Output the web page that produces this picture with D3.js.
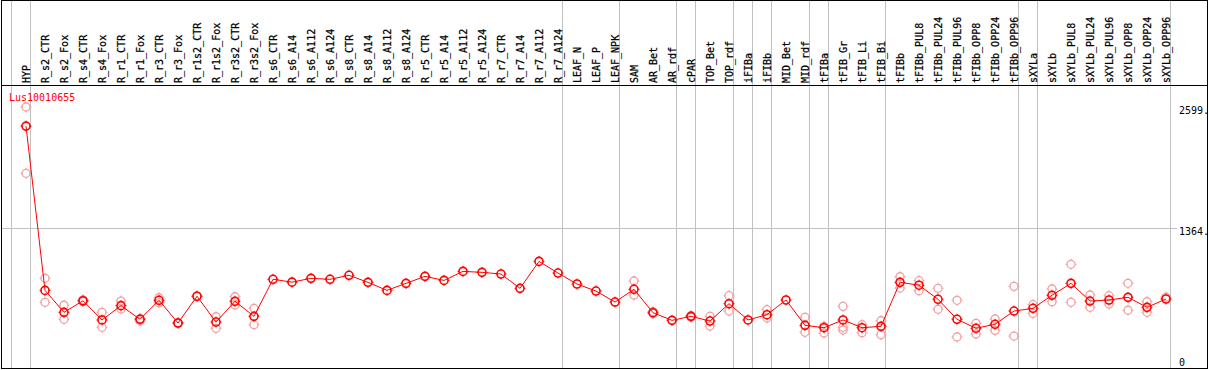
<!DOCTYPE html>
<html>
<head>
<meta charset="utf-8">
<script src="https://cdn.jsdelivr.net/npm/d3@7"></script>
<style>
  html, body { margin: 0; padding: 0; background: #fff; }
  text { font-family: "DejaVu Sans Mono", monospace; font-size: 10px; }
</style>
</head>
<body>
<div id="chart"></div>
<script>
// expression profile, one gene
var geneName = "Lus10010655";

var categories = ["HYP", "R_s2_CTR", "R_s2_Fox", "R_s4_CTR", "R_s4_Fox", "R_r1_CTR", "R_r1_Fox",
    "R_r3_CTR", "R_r3_Fox", "R_r1s2_CTR", "R_r1s2_Fox", "R_r3s2_CTR", "R_r3s2_Fox", "R_s6_CTR",
    "R_s6_A14", "R_s6_A112", "R_s6_A124", "R_s8_CTR", "R_s8_A14", "R_s8_A112", "R_s8_A124",
    "R_r5_CTR", "R_r5_A14", "R_r5_A112", "R_r5_A124", "R_r7_CTR", "R_r7_A14", "R_r7_A112",
    "R_r7_A124", "LEAF_N", "LEAF_P", "LEAF_NPK", "SAM", "AR_Bet", "AR_rdf", "cPAR", "TOP_Bet",
    "TOP_rdf", "iFIBa", "iFIBb", "MID_Bet", "MID_rdf", "tFIBa", "tFIB_Gr", "tFIB_Li", "tFIB_Bi",
    "tFIBb", "tFIBb_PUL8", "tFIBb_PUL24", "tFIBb_PUL96", "tFIBb_OPP8", "tFIBb_OPP24", "tFIBb_OPP96",
    "sXYLa", "sXYLb", "sXYLb_PUL8", "sXYLb_PUL24", "sXYLb_PUL96", "sXYLb_OPP8", "sXYLb_OPP24",
    "sXYLb_OPP96"];

// mean values
var means = [2404, 727, 503, 621, 425, 571, 432, 626, 394, 667, 404, 615, 462, 840,
    811, 850, 840, 881, 809, 727, 799, 870, 829, 921, 911, 894, 748, 1023,
    904, 792, 720, 608, 738, 499, 421, 462, 414, 591, 425, 479, 629, 370, 346, 425,
    346, 360, 809, 780, 636, 432, 340, 381, 516, 544, 677, 799, 618, 629, 656, 554, 639];

// single replicates (faint circles)
var replicates = [[2599, 1922], [850, 605], [575, 432], [630, 612], [503, 350], [618, 537],
    [414, 440], [652, 600], [390, 398], [667], [458, 340], [662, 578], [544, 377],
    [], [], [], [], [], [], [], [], [], [], [], [], [], [], [], [], [], [], [],
    [823, 680], [510, 490], [], [470, 452], [462, 363], [673, 516], [], [530, 445], [],
    [452, 299], [360, 292], [564, 350, 322], [377, 295], [417, 275], [866, 751], [826, 724],
    [748, 534], [626, 251], [391, 282], [435, 319], [768, 261], [581, 493], [741, 611],
    [993, 605], [680, 554], [673, 588], [799, 524], [611, 503], [659]];

// vertical separators drawn after these columns
var groupEnds = ["HYP", "R_r7_A124", "LEAF_NPK", "AR_rdf", "cPAR", "TOP_rdf", "iFIBa", "iFIBb",
    "MID_rdf", "tFIBa", "tFIB_Bi", "tFIBb_OPP96", "sXYLa", "sXYLb_OPP96"];

var yTicks = [0, 1364, 2599];
var yGrid = [1364];

(function () {
    "use strict";
    var w = 1209, h = 370, headerH = 85, right = 1207.5, bottom = 368.5;
    var red = "#ff0000", pink = "#f0a0a0", grey = "#c0c0c0";

    var svg = d3.select("#chart").append("svg").attr("width", w).attr("height", h);

    var x = d3.scaleBand().domain(categories).range([16.5, 16.5 + 19 * categories.length]);
    var cx = function (c) { return x(c) + x.bandwidth() / 2; };
    var y = d3.scaleLinear().domain([0, d3.max(yTicks)]).range([361.6, 107]);

    // grey separators, full height
    var sepX = [cx(categories[0]) - x.step() + 4.5].concat(groupEnds.map(function (c) {
        return cx(c) + 4.5;
    }));
    svg.selectAll("line.sep").data(sepX).enter().append("line")
        .attr("class", "sep")
        .attr("x1", function (d) { return d; }).attr("x2", function (d) { return d; })
        .attr("y1", 0).attr("y2", bottom)
        .attr("stroke", grey).attr("shape-rendering", "crispEdges");

    svg.selectAll("line.grid").data(yGrid).enter().append("line")
        .attr("class", "grid")
        .attr("x1", 1.5).attr("x2", 1177)
        .attr("y1", function (d) { return Math.round(y(d)) + 0.5; })
        .attr("y2", function (d) { return Math.round(y(d)) + 0.5; })
        .attr("stroke", grey).attr("shape-rendering", "crispEdges");

    // frame
    svg.append("rect").attr("x", 1.5).attr("y", 0.5)
        .attr("width", right - 1.5).attr("height", bottom - 0.5)
        .attr("fill", "none").attr("stroke", "#000").attr("shape-rendering", "crispEdges");
    svg.append("line").attr("x1", 1.5).attr("x2", right)
        .attr("y1", headerH + 0.5).attr("y2", headerH + 0.5)
        .attr("stroke", "#000").attr("shape-rendering", "crispEdges");

    // column labels, rotated
    svg.selectAll("text.cat").data(categories).enter().append("text")
        .attr("class", "cat")
        .attr("transform", function (d) { return "translate(" + (cx(d) + 4) + ",83) rotate(-90)"; })
        .attr("fill", "#000").attr("stroke", "#000").attr("stroke-width", 0.25)
        .text(function (d) { return d; });

    // y labels
    svg.selectAll("text.ytick").data(yTicks).enter().append("text")
        .attr("class", "ytick")
        .attr("x", 1179)
        .attr("y", function (d) { return Math.min(y(d) + 7, 366); })
        .attr("fill", "#000")
        .text(function (d) { return d === 0 ? "0" : d + "."; });

    svg.append("text").attr("x", 9).attr("y", 101).attr("fill", red).text(geneName);

    function marker(g, color, sw) {
        g.append("circle").attr("r", 4).attr("fill", "none")
            .attr("stroke", color).attr("stroke-width", sw);
        [[0, -4, 0, -5.5], [0, 4, 0, 5.5], [-4, 0, -5.5, 0], [4, 0, 5.5, 0]].forEach(function (t) {
            g.append("line").attr("x1", t[0]).attr("y1", t[1]).attr("x2", t[2]).attr("y2", t[3])
                .attr("stroke", color).attr("stroke-width", 1);
        });
    }

    // replicates
    var reps = [];
    replicates.forEach(function (arr, i) {
        arr.forEach(function (v) { reps.push({c: categories[i], v: v}); });
    });
    svg.selectAll("g.rep").data(reps).enter().append("g")
        .attr("class", "rep")
        .attr("transform", function (d) { return "translate(" + cx(d.c) + "," + y(d.v) + ")"; })
        .each(function () { marker(d3.select(this), pink, 1.3); });

    // mean line
    var line = d3.line()
        .x(function (d, i) { return cx(categories[i]); })
        .y(function (d) { return y(d); });
    svg.append("path").datum(means).attr("d", line)
        .attr("fill", "none").attr("stroke", red).attr("stroke-width", 1);

    svg.selectAll("g.mean").data(means).enter().append("g")
        .attr("class", "mean")
        .attr("transform", function (d, i) { return "translate(" + cx(categories[i]) + "," + y(d) + ")"; })
        .each(function () { marker(d3.select(this), red, 1.6); });
}());
</script>
</body>
</html>
